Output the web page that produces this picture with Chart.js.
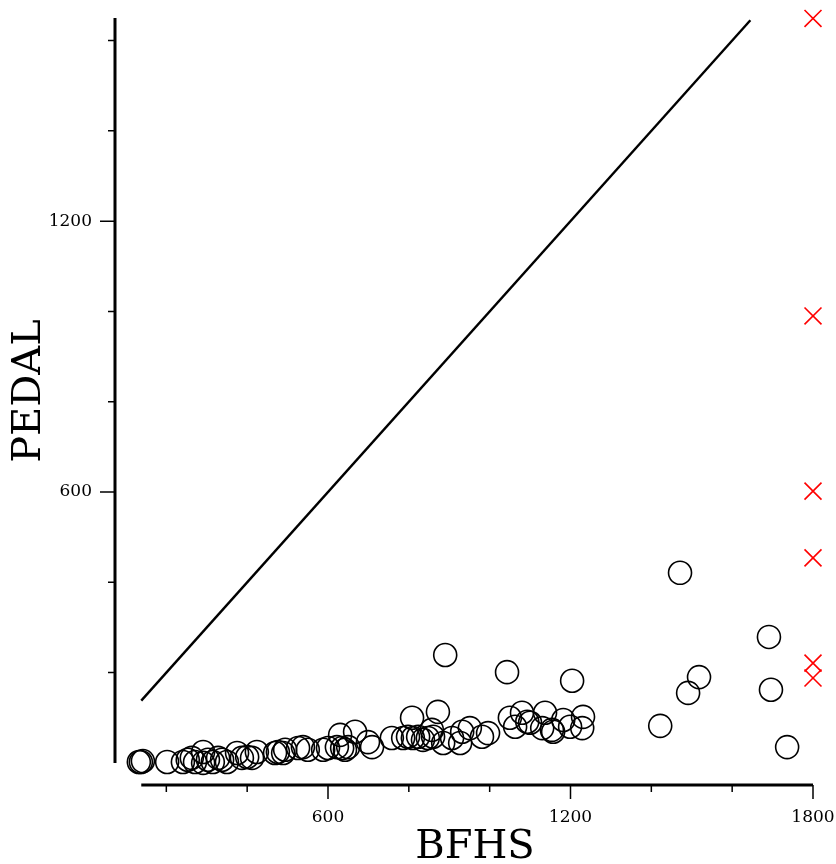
<!DOCTYPE html>
<html>
<head>
<meta charset="utf-8">
<script src="https://cdn.jsdelivr.net/npm/chart.js@4/dist/chart.umd.min.js"></script>
<style>
  html, body { margin: 0; padding: 0; background: #fff; }
  #wrap { width: 836px; height: 864px; }
</style>
</head>
<body>
<div id="wrap"><canvas id="plot" width="836" height="864"></canvas></div>
<script>
// observed points (BFHS vs PEDAL)
const bfhs = [132, 137, 142, 202, 241, 253, 263, 271, 291, 291, 303, 315, 328, 338, 350,
  375, 387, 400, 412, 424, 469, 476, 489, 494, 526, 538, 550, 588, 600, 630, 667, 622,
  635, 642, 650, 699, 709, 758, 808, 872, 786, 798, 810, 823, 835, 847, 860, 857, 885,
  907, 932, 951, 981, 996, 890, 1043, 1050, 1080, 1063, 1100, 1137, 1130, 1157, 1182,
  1199, 1231, 1229, 1204, 1422, 1471, 1491, 1518, 1691, 1696, 1736, 1093, 927, 1154];
const pedal = [2, 2, 4, 2, 2, 7, 11, 2, 24, 0, 7, 2, 11, 7, 2,
  22, 11, 13, 11, 24, 22, 24, 22, 29, 33, 35, 29, 29, 33, 62, 69, 35,
  33, 29, 35, 46, 35, 55, 100, 113, 55, 58, 55, 58, 51, 55, 58, 73, 44,
  55, 69, 77, 58, 66, 239, 201, 100, 111, 80, 89, 111, 77, 69, 95,
  80, 102, 77, 182, 82, 421, 155, 190, 279, 162, 35, 91, 44, 73];

// points off the right edge, drawn at BFHS = 1800
const censorX = 1800;
const censorPedal = [1649, 990, 602, 454, 221, 188];

// reference line y = x
const refLine = [138, 1645];

const xTicks = [200, 400, 600, 800, 1000, 1200, 1400, 1600, 1800];
const xLabeled = [600, 1200, 1800];
const yTicks = [200, 400, 600, 800, 1000, 1200, 1400, 1600];
const yLabeled = [600, 1200];
const xAxisSpan = [138, 1800];
const yAxisSpan = [0, 1650];

const serif = "'DejaVu Serif', serif";

// keep chart area exactly where the layout padding puts it
function noEdgePadding(s) {
  s.paddingLeft = s.paddingRight = s.paddingTop = s.paddingBottom = 0;
}

const rangeAxes = {
  id: 'rangeAxes',
  afterDraw(chart) {
    const { ctx, chartArea, scales } = chart;
    const xs = scales.x, ys = scales.y;
    ctx.save();
    ctx.strokeStyle = '#000';
    ctx.lineCap = 'butt';

    // axis lines
    ctx.lineWidth = 3;
    ctx.beginPath();
    ctx.moveTo(chartArea.left, ys.getPixelForValue(yAxisSpan[0]));
    ctx.lineTo(chartArea.left, ys.getPixelForValue(yAxisSpan[1]));
    ctx.moveTo(xs.getPixelForValue(xAxisSpan[0]), chartArea.bottom);
    ctx.lineTo(xs.getPixelForValue(xAxisSpan[1]), chartArea.bottom);
    ctx.stroke();

    // tick marks
    ctx.lineWidth = 1.5;
    ctx.beginPath();
    yTicks.forEach(v => {
      const y = ys.getPixelForValue(v);
      const len = yLabeled.includes(v) ? 15 : 7;
      ctx.moveTo(chartArea.left, y);
      ctx.lineTo(chartArea.left - len, y);
    });
    xTicks.forEach(v => {
      const x = xs.getPixelForValue(v);
      const len = xLabeled.includes(v) ? 14 : 7;
      ctx.moveTo(x, chartArea.bottom);
      ctx.lineTo(x, chartArea.bottom + len);
    });
    ctx.stroke();

    // axis titles
    ctx.fillStyle = '#000';
    ctx.font = "40px " + serif;
    ctx.textAlign = 'center';
    ctx.textBaseline = 'middle';
    ctx.fillText('BFHS', 475, 848);
    ctx.translate(30, 391);
    ctx.rotate(-Math.PI / 2);
    ctx.fillText('PEDAL', 0, 0);
    ctx.restore();
  }
};

new Chart(document.getElementById('plot'), {
  type: 'scatter',
  data: {
    datasets: [
      {
        label: 'observed',
        data: bfhs.map((x, i) => ({ x, y: pedal[i] })),
        pointStyle: 'circle',
        pointRadius: 11.5,
        borderColor: '#000',
        backgroundColor: 'rgba(0,0,0,0)',
        borderWidth: 1.6,
        clip: false
      },
      {
        label: 'censored',
        data: censorPedal.map(y => ({ x: censorX, y })),
        pointStyle: 'crossRot',
        pointRadius: 12,
        borderColor: '#ff0000',
        borderWidth: 1.6,
        clip: false
      },
      {
        label: 'y = x',
        type: 'line',
        data: refLine.map(v => ({ x: v, y: v })),
        borderColor: '#000',
        borderWidth: 2.4,
        pointRadius: 0,
        fill: false,
        clip: false
      }
    ]
  },
  options: {
    responsive: false,
    animation: false,
    layout: { padding: { top: 18, right: 23, left: 0, bottom: 0 } },
    plugins: { legend: { display: false }, tooltip: { enabled: false } },
    scales: {
      x: {
        type: 'linear',
        min: 73,
        max: 1800,
        grid: { display: false, drawTicks: false },
        border: { display: false },
        afterBuildTicks: s => { s.ticks = xTicks.map(value => ({ value })); },
        afterFit: s => { s.height = 79; noEdgePadding(s); },
        ticks: {
          autoSkip: false,
          maxRotation: 0,
          padding: 22,
          color: '#000',
          font: { family: serif, size: 17 },
          callback: v => xLabeled.includes(v) ? String(v) : ''
        }
      },
      y: {
        type: 'linear',
        min: -49,
        max: 1650,
        grid: { display: false, drawTicks: false },
        border: { display: false },
        afterBuildTicks: s => { s.ticks = yTicks.map(value => ({ value })); },
        afterFit: s => { s.width = 115; noEdgePadding(s); },
        ticks: {
          autoSkip: false,
          padding: 23,
          color: '#000',
          font: { family: serif, size: 17 },
          callback: v => yLabeled.includes(v) ? String(v) : ''
        }
      }
    }
  },
  plugins: [rangeAxes]
});
</script>
</body>
</html>
